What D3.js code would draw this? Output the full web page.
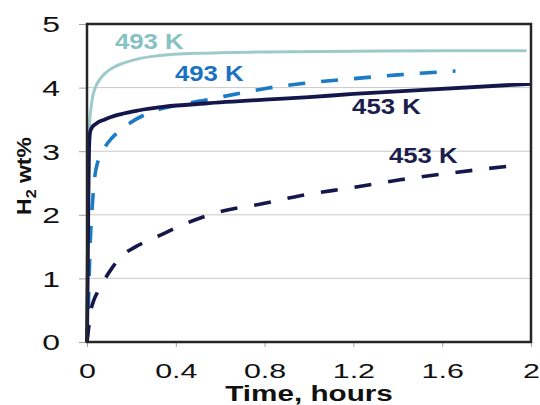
<!DOCTYPE html>
<html><head><meta charset="utf-8">
<script src="https://cdn.jsdelivr.net/npm/d3@7"></script>
<style>body{margin:0;background:#fff}svg{display:block}text{font-family:"Liberation Sans",Arial,sans-serif}</style>
</head><body><svg id="c" width="540" height="405"></svg>
<script>
// ---- data ----
const xTicks = [0, 0.4, 0.8, 1.2, 1.6, 2];
const xTickLabels = ["0", "0.4", "0.8", "1.2", "1.6", "2"];
const yTicks = [0, 1, 2, 3, 4, 5];
const yTickLabels = ["0", "1", "2", "3", "4", "5"];
const seriesNames = ["493 K solid", "493 K dashed", "453 K solid", "453 K dashed"];
const t493s = [0, 0.004, 0.008, 0.012, 0.017, 0.025, 0.04, 0.06, 0.08, 0.12, 0.16, 0.24, 0.32, 0.5, 0.8, 1.2, 1.6, 1.98];
const v493s = [0, 1.8, 3.0, 3.45, 3.65, 3.85, 4.02, 4.14, 4.22, 4.32, 4.38, 4.46, 4.5, 4.54, 4.56, 4.57, 4.58, 4.58];
const t493d = [0, 0.004, 0.008, 0.015, 0.025, 0.035, 0.05, 0.078, 0.11, 0.15, 0.22, 0.3, 0.4, 0.53, 0.7, 0.81, 0.96, 1.2, 1.4, 1.66];
const v493d = [0, 0.3, 0.8, 1.6, 2.2, 2.6, 2.85, 3.05, 3.2, 3.33, 3.5, 3.63, 3.72, 3.8, 3.92, 3.99, 4.06, 4.14, 4.2, 4.26];
const t453s = [0, 0.003, 0.006, 0.009, 0.013, 0.02, 0.04, 0.08, 0.15, 0.23, 0.35, 0.53, 0.8, 1.0, 1.2, 1.5, 2.0];
const v453s = [0, 1.0, 2.2, 3.0, 3.28, 3.36, 3.43, 3.5, 3.58, 3.64, 3.7, 3.75, 3.81, 3.85, 3.9, 3.96, 4.06];
const t453d = [0, 0.005, 0.01, 0.018, 0.03, 0.05, 0.077, 0.11, 0.153, 0.22, 0.3, 0.45, 0.6, 0.8, 0.96, 1.2, 1.41, 1.6, 1.94];
const v453d = [0, 0.15, 0.3, 0.5, 0.65, 0.8, 0.97, 1.15, 1.34, 1.5, 1.63, 1.87, 2.05, 2.18, 2.3, 2.43, 2.55, 2.64, 2.78];
const labelTexts = ["493 K", "493 K", "453 K", "453 K"];
const labelT = [0.126, 0.396, 1.194, 1.36];
const labelV = [4.61, 4.11, 3.58, 2.81];

// ---- styles ----
const colors = ["#9fcaca", "#1b7bc6", "#15174c", "#15174c"];
const labelColors = ["#86c2c4", "#1a72c0", "#1b1d4e", "#1b1d4e"];
const widths = [3, 3.6, 3.8, 3.6];
const dashes = [null, "17,16", null, "17,17"];

const svg = d3.select("#c");
const L = 87, R = 531, T = 24, B = 342;
const x = d3.scaleLinear().domain([0, 2]).range([L, R]);
const y = d3.scaleLinear().domain([0, 5]).range([B, T]);

// gridlines
svg.append("g").selectAll("line").data([1, 2, 3, 4]).join("line")
  .attr("x1", L).attr("x2", R).attr("y1", d => y(d)).attr("y2", d => y(d))
  .attr("stroke", "#c9c9c9").attr("stroke-width", 1);

// axes
const xa = svg.append("g").attr("transform", `translate(0,${B})`)
  .call(d3.axisBottom(x).tickValues(xTicks).tickFormat((d, i) => xTickLabels[i]).tickSize(5).tickSizeOuter(0));
const ya = svg.append("g").attr("transform", `translate(${L},0)`)
  .call(d3.axisLeft(y).tickValues(yTicks).tickFormat((d, i) => yTickLabels[i]).tickSize(8).tickSizeOuter(0));
[xa, ya].forEach(a => {
  a.select(".domain").remove();
  a.selectAll("line").attr("stroke", "#a0a0a0");
  a.selectAll("text").attr("font-size", 21.5).attr("fill", "#111").attr("font-family", "Liberation Sans, Arial, sans-serif");
});
xa.selectAll("text").attr("y", 0).attr("dy", 0).attr("font-size", 21).attr("transform", "translate(0,35.5) scale(1.45,1)");
ya.selectAll("text").attr("x", 0).attr("dy", "0.36em").attr("font-size", 22).attr("transform", "translate(-27,0) scale(1.45,1)");

// lines
const sets = [[t493s, v493s], [t493d, v493d], [t453s, v453s], [t453d, v453d]];
const line = d3.line().x(d => x(d[0])).y(d => y(d[1])).curve(d3.curveMonotoneX);
const drawOrder = [0, 1, 3, 2];
drawOrder.forEach(i => {
  const pts = sets[i][0].map((t, k) => [t, sets[i][1][k]]);
  svg.append("path").datum(pts).attr("d", line)
    .attr("fill", "none").attr("stroke", colors[i]).attr("stroke-width", widths[i])
    .attr("stroke-dasharray", dashes[i]).attr("stroke-linejoin", "round")
    .attr("aria-label", seriesNames[i]);
});

// frame
svg.append("rect").attr("x", L).attr("y", T).attr("width", R - L).attr("height", B - T)
  .attr("fill", "none").attr("stroke", "#262626").attr("stroke-width", 2.5);

// labels
labelTexts.forEach((s, i) => {
  svg.append("text").text(s)
    .attr("transform", `translate(${x(labelT[i])},${y(labelV[i])}) scale(1.17,1)`)
    .attr("font-size", 22).attr("font-weight", "bold").attr("fill", labelColors[i]);
});

// axis titles
svg.append("text").text("Time, hours")
  .attr("transform", `translate(${(L + R) / 2},401) scale(1.35,1)`)
  .attr("text-anchor", "middle").attr("font-size", 22).attr("font-weight", "bold").attr("fill", "#111");
const yt = svg.append("text")
  .attr("transform", `translate(31,176) rotate(-90) scale(1.15,1)`)
  .attr("text-anchor", "middle").attr("font-size", 20).attr("font-weight", "bold").attr("fill", "#111");
yt.append("tspan").text("H");
yt.append("tspan").text("2").attr("font-size", 14).attr("dy", 5);
yt.append("tspan").text(" wt%").attr("dy", -5);
</script></body></html>
